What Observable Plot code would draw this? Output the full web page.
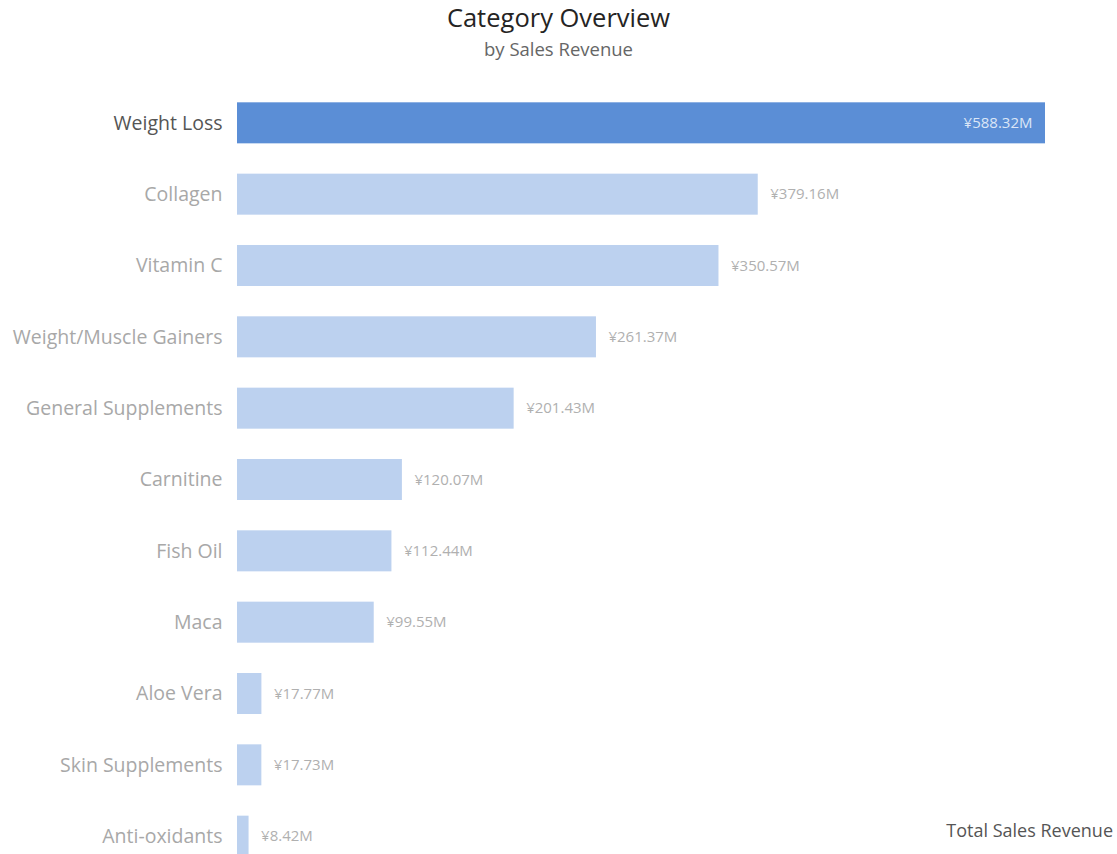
<!DOCTYPE html>
<html>
<head>
<meta charset="utf-8">
<script src="https://cdn.jsdelivr.net/npm/d3@7"></script>
<script src="https://cdn.jsdelivr.net/npm/@observablehq/plot@0.6"></script>
<style>
  html, body { margin: 0; padding: 0; background: #fff; overflow: hidden; }
  body { font-family: "Open Sans", "Noto Sans", sans-serif; width: 1117px; height: 854px; position: relative; }
  #head { height: 72px; text-align: center; }
  #title { font-size: 25.5px; color: #252423; padding-top: 0px; line-height: 34px; }
  #subtitle { font-size: 18.5px; color: #666; line-height: 30px; }
  #xlabel { position: absolute; right: 4px; top: 818px; font-size: 18px; color: #555; }
</style>
</head>
<body>
<div id="head">
  <div id="title">Category Overview</div>
  <div id="subtitle">by Sales Revenue</div>
</div>
<div id="chart"></div>
<div id="xlabel">Total Sales Revenue</div>
<script>
const categories = ["Weight Loss", "Collagen", "Vitamin C", "Weight/Muscle Gainers", "General Supplements", "Carnitine", "Fish Oil", "Maca", "Aloe Vera", "Skin Supplements", "Anti-oxidants"];
const revenue = [588.32, 379.16, 350.57, 261.37, 201.43, 120.07, 112.44, 99.55, 17.77, 17.73, 8.42];
const highlighted = "Weight Loss";

const data = categories.map((c, i) => ({cat: c, value: revenue[i]}));
const fmt = v => "¥" + v.toFixed(2) + "M";

const chart = Plot.plot({
  width: 1117,
  height: 815,
  marginLeft: 237,
  marginRight: 72,
  marginTop: 0,
  marginBottom: 0,
  style: {fontFamily: "'Open Sans', 'Noto Sans', sans-serif", background: "transparent"},
  x: {domain: [0, d3.max(revenue)], axis: null},
  y: {domain: categories, paddingInner: 0.425, paddingOuter: 0.425, round: false, axis: null},
  marks: [
    Plot.barX(data, {
      y: "cat", x: "value",
      fill: d => d.cat === highlighted ? "#5b8ed6" : "#bcd1ef"
    }),
    Plot.text(data, {
      y: "cat", text: "cat", frameAnchor: "left", dx: -15, textAnchor: "end",
      fontSize: 19.5,
      fill: d => d.cat === highlighted ? "#555555" : "#a8a8a8"
    }),
    Plot.text(data.filter(d => d.cat !== highlighted), {
      y: "cat", x: "value", text: d => fmt(d.value), dx: 12, textAnchor: "start",
      fontSize: 15, fill: "#b0b0b0"
    }),
    Plot.text(data.filter(d => d.cat === highlighted), {
      y: "cat", x: "value", text: d => fmt(d.value), dx: -13, textAnchor: "end",
      fontSize: 15, fill: "#dbe6f7"
    })
  ]
});
document.getElementById("chart").appendChild(chart);
</script>
</body>
</html>
